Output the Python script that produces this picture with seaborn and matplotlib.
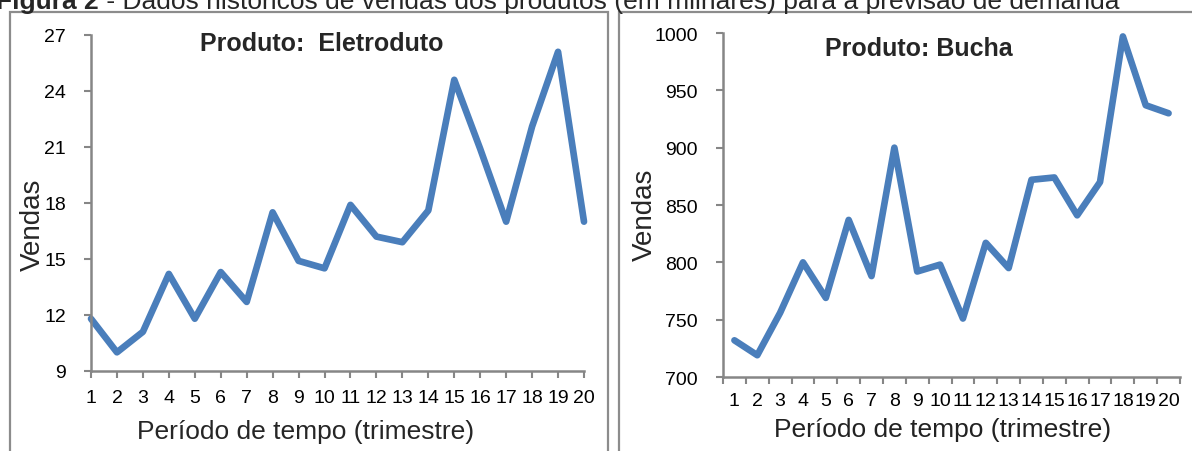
import matplotlib

matplotlib.use("Agg")

import matplotlib.pyplot as plt
import pandas as pd
import seaborn as sns
from matplotlib.patches import Rectangle

# data
periodos = list(range(1, 21))
vendas_eletroduto = [11.8, 10.0, 11.1, 14.2, 11.8, 14.3, 12.7, 17.5, 14.9, 14.5,
                     17.9, 16.2, 15.9, 17.6, 24.6, 20.9, 17.0, 22.1, 26.1, 17.0]
vendas_bucha = [732, 719, 756, 800, 769, 837, 788, 900, 792, 798,
                751, 817, 795, 872, 874, 841, 870, 997, 937, 930]
yticks_eletroduto = [9, 12, 15, 18, 21, 24, 27]
yticks_bucha = [700, 750, 800, 850, 900, 950, 1000]

LINE = "#4A7EBB"
AXIS = "#868686"
BORDER = "#8C8C8C"

sns.set_theme(style="white")
plt.rcParams["font.family"] = ["Liberation Sans", "DejaVu Sans"]

fig = plt.figure(figsize=(11.92, 4.52), dpi=100)
W, H = 1192, 452


def px_axes(x0, y0, x1, y1):
    # axes from pixel box (top-left origin)
    return fig.add_axes([x0 / W, 1 - y1 / H, (x1 - x0) / W, (y1 - y0) / H])


# chart area borders
for x0, x1 in [(10, 608), (619, 1200)]:
    fig.add_artist(Rectangle((x0 / W, -0.1), (x1 - x0) / W, 1.1 - 13 / H,
                             transform=fig.transFigure, fill=False,
                             edgecolor=BORDER, linewidth=1.6))

df1 = pd.DataFrame({"periodo": periodos, "vendas": vendas_eletroduto})
df2 = pd.DataFrame({"periodo": periodos, "vendas": vendas_bucha})

# left panel
ax1 = px_axes(91, 36, 584, 372)
sns.lineplot(data=df1, x="periodo", y="vendas", ax=ax1, color=LINE,
             linewidth=4.8, solid_capstyle="round", solid_joinstyle="round",
             clip_on=False)
ax1.set_xlim(1, 20)
ax1.set_ylim(9, 27)
ax1.set_xticks(periodos)
ax1.set_yticks(yticks_eletroduto)
ax1.tick_params(axis="x", length=5, width=1.5, color=AXIS, pad=8,
                labelsize=14, bottom=True)
ax1.tick_params(axis="y", length=5, width=1.5, color=AXIS, pad=13,
                labelsize=14, left=True)
ax1.set_xlabel("Período de tempo (trimestre)", fontsize=19)
ax1.set_ylabel("Vendas", fontsize=20)
ax1.xaxis.set_label_coords(0.436, -0.179)
ax1.yaxis.set_label_coords(-0.118, 0.4375)
fig.text(322 / W, 1 - 44 / H, "Produto:  Eletroduto", fontsize=18,
         fontweight="bold", ha="center", va="center")

# right panel, categories between tick marks
ax2 = px_axes(723, 34, 1180, 378)
sns.lineplot(data=df2, x="periodo", y="vendas", ax=ax2, color=LINE,
             linewidth=4.8, solid_capstyle="round", solid_joinstyle="round")
ax2.set_xlim(0.5, 20.5)
ax2.set_ylim(700, 1000)
ax2.set_xticks(periodos)
ax2.set_xticks([p - 0.5 for p in periodos] + [20.5], minor=True)
ax2.set_yticks(yticks_bucha)
ax2.tick_params(axis="x", which="major", length=0, pad=11, labelsize=14,
                bottom=True)
ax2.tick_params(axis="x", which="minor", length=5, width=1.5, color=AXIS,
                bottom=True)
ax2.tick_params(axis="y", length=5, width=1.5, color=AXIS, pad=13,
                labelsize=14, left=True)
ax2.set_xlabel("Período de tempo (trimestre)", fontsize=19, color="#222222")
ax2.set_ylabel("Vendas", fontsize=20)
ax2.xaxis.set_label_coords(0.481, -0.151)
ax2.yaxis.set_label_coords(-0.171, 0.474)
fig.text(919 / W, 1 - 49 / H, "Produto: Bucha", fontsize=18,
         fontweight="bold", ha="center", va="center")

for ax in (ax1, ax2):
    sns.despine(ax=ax)
    for side in ("left", "bottom"):
        ax.spines[side].set_color(AXIS)
        ax.spines[side].set_linewidth(1.8)
    ax.set_facecolor("none")
    ax.tick_params(labelcolor="black")
    ax.xaxis.label.set_va("center")
    ax.yaxis.label.set_va("center")

# figure caption, cut by the top edge as in the source
cap1 = fig.text(-4 / W, 1 - 9 / H, "Figura 2", fontsize=19, fontweight="bold",
                ha="left", va="baseline")
fig.canvas.draw()
bb = cap1.get_window_extent()
fig.text(bb.x1 / W, 1 - 9 / H,
         " - Dados históricos de vendas dos produtos (em milhares) para a previsão de demanda",
         fontsize=19, ha="left", va="baseline")

fig.savefig("out.png", dpi=100)
